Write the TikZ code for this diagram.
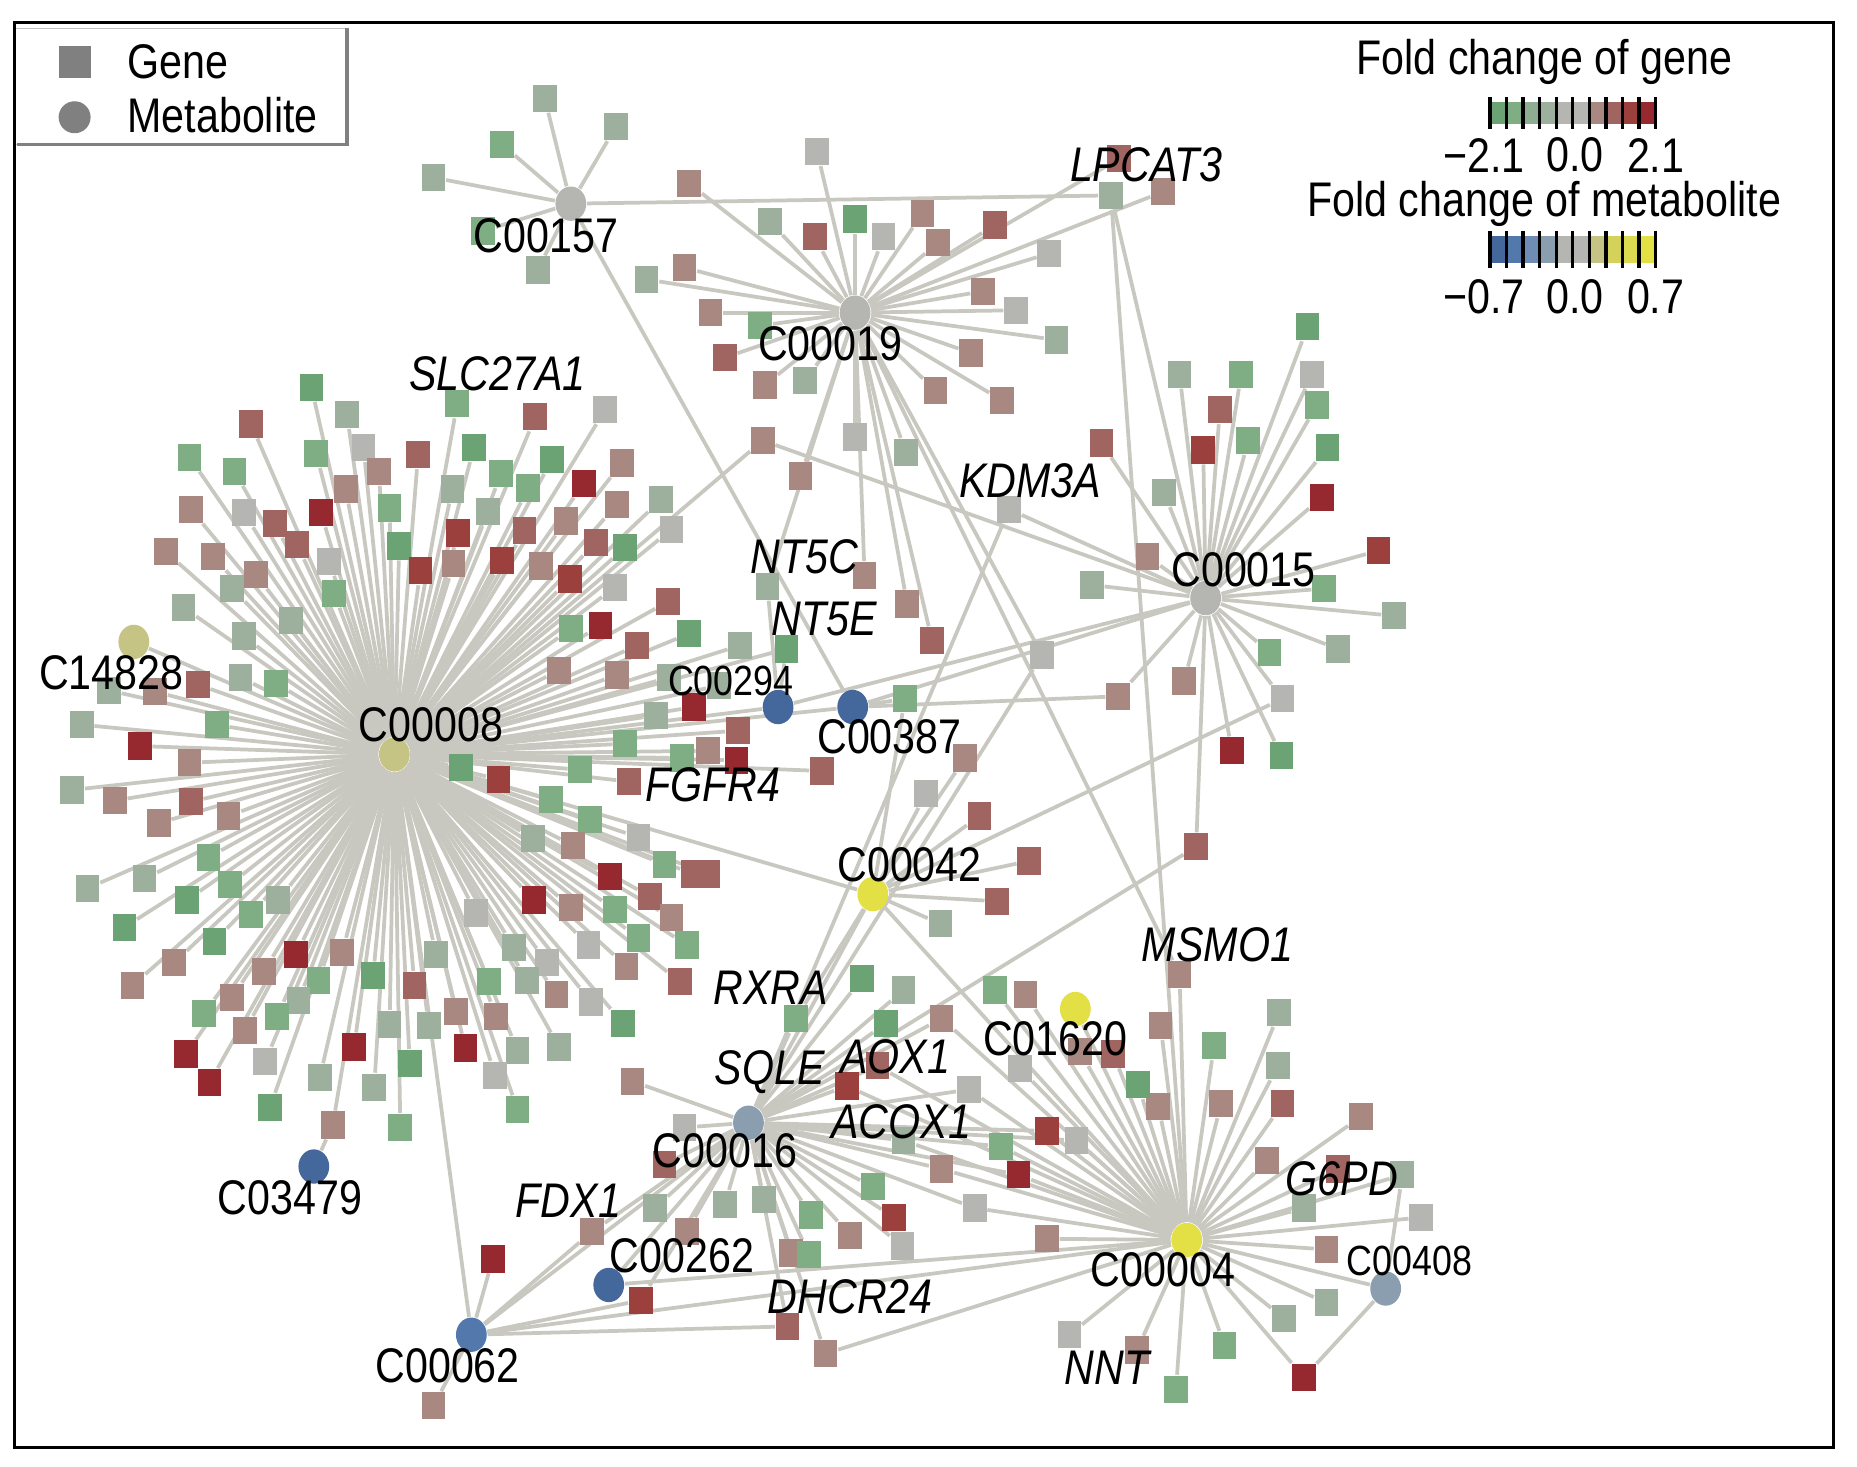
\documentclass[tikz,border=0pt]{standalone}
\usepackage{graphicx}
\usepackage{fontspec}
\setmainfont{Liberation Sans}
\usetikzlibrary{shapes.geometric}

\definecolor{edgec}{RGB}{200,200,192}
\definecolor{gn3}{RGB}{107,163,117}
\definecolor{gn2}{RGB}{127,174,132}
\definecolor{gn1}{RGB}{156,176,157}
\definecolor{gnx}{RGB}{142,174,146}
\definecolor{gry}{RGB}{181,181,177}
\definecolor{rd1}{RGB}{168,136,128}
\definecolor{rd2}{RGB}{160,101,97}
\definecolor{rd3}{RGB}{156,64,62}
\definecolor{rd4}{RGB}{150,41,47}
\definecolor{mb3}{RGB}{68,103,156}
\definecolor{mb2}{RGB}{82,120,172}
\definecolor{mbx}{RGB}{110,140,180}
\definecolor{mb1}{RGB}{138,158,176}
\definecolor{myl}{RGB}{198,196,132}
\definecolor{myx}{RGB}{212,210,90}
\definecolor{myy}{RGB}{220,218,80}
\definecolor{my3}{RGB}{227,224,70}
\definecolor{legc}{RGB}{128,128,128}

\pgfdeclarelayer{paper}
\pgfdeclarelayer{edges}
\pgfdeclarelayer{top}
\pgfsetlayers{paper,edges,main,top}

\newcommand{\lbl}[1]{\scalebox{1}[1.18]{#1}}

\begin{document}
\begin{tikzpicture}[x=0.1mm, y=-0.1mm,
  edge/.style={draw=edgec, line width=0.9pt},
  gene/.style={rectangle, minimum width=2.0mm, minimum height=2.3mm, inner sep=0pt},
  met/.style={ellipse, minimum width=2.6mm, minimum height=2.9mm, inner sep=0pt},
  mlab/.style={inner sep=0pt, font=\fontsize{9.9}{11}\selectfont},
  slab/.style={inner sep=0pt, font=\fontsize{8.6}{10}\selectfont},
  glab/.style={inner sep=0pt, font=\fontsize{9.9}{11}\selectfont\itshape}]
  \useasboundingbox (0,0) rectangle (1568,1238);
  \begin{pgfonlayer}{paper}
  \fill[white] (0,0) rectangle (1568,1238);
  \end{pgfonlayer}

  \begin{pgfonlayer}{top}
  \node[met, fill=gry] (c00157) at (482,172) {};
  \node[met, fill=gry] (c00019) at (722,264) {};
  \node[met, fill=gry] (c00015) at (1018,505) {};
  \node[met, fill=myl] (c00008) at (333,637) {};
  \node[met, fill=myl] (c14828) at (113,542) {};
  \node[met, fill=mb3] (c00294) at (657,597) {};
  \node[met, fill=mb3] (c00387) at (720,597) {};
  \node[met, fill=my3] (c00042) at (737,755) {};
  \node[met, fill=my3] (c01620) at (908,852) {};
  \node[met, fill=mb1] (c00016) at (632,948) {};
  \node[met, fill=my3] (c00004) at (1002,1047) {};
  \node[met, fill=mb1] (c00408) at (1170,1088) {};
  \node[met, fill=mb3] (c03479) at (265,985) {};
  \node[met, fill=mb3] (c00262) at (514,1085) {};
  \node[met, fill=mb2] (c00062) at (398,1127) {};
  \end{pgfonlayer}

  \node[gene, fill=gn1] (lp1) at (938,165) {};
  \node[gene, fill=rd1] (lp2) at (982,162) {};
  \node[gene, fill=rd2] (lp3) at (945,134) {};
  \node[gene, fill=gry] (kdm) at (852,430) {};
  \node[gene, fill=rd1] (sq644) at (644,372) {};
  \node[gene, fill=gry] (sq880) at (880,553) {};
  \node[gene, fill=rd1] (sq944) at (944,588) {};
  \node[gene, fill=gry] (sq1083) at (1083,590) {};
  \node[gene, fill=rd2] (sq1010) at (1010,715) {};
  \node[gene, fill=gn1] (nt5c) at (648,495) {};
  \node[gene, fill=gn3] (nt5e) at (664,548) {};
  \node[gene, fill=gn2] (sq764) at (764,590) {};
  \node[gene, fill=rd1] (msmo) at (996,823) {};
  \node[gene, fill=gn2] (rxra) at (672,860) {};
  \node[gene, fill=rd1] (fdx1) at (500,1040) {};
  \node[gene, fill=rd2] (dhcr) at (665,1120) {};
  \node[gene, fill=rd1] (dhcr2) at (697,1143) {};
  \node[gene, fill=rd3] (sq541) at (541,1098) {};
  \node[gene, fill=rd4] (sq416) at (416,1063) {};
  \node[gene, fill=rd1] (sq366) at (366,1187) {};
  \node[gene, fill=rd1] (sq281) at (281,950) {};
  \node[gene, fill=rd2] (g6pd) at (1130,987) {};
  \node[gene, fill=gn1] (sq1184) at (1184,992) {};
  \node[gene, fill=rd4] (sq1101) at (1101,1163) {};
  \node[gene, fill=rd1] (nnt) at (960,1140) {};

  \foreach \x/\y/\c [count=\i] in {263/327/gn3, 293/350/gn1, 212/358/rd2,
      386/341/gn2, 452/352/rd2, 511/346/gry, 160/386/gn2, 198/398/gn2, 267/383/gn2,
      307/378/gry, 353/384/rd2, 400/378/gn3, 466/388/gn3, 525/391/rd1, 493/408/rd4,
      423/400/gn2, 161/430/rd1, 206/433/gry, 232/442/rd2, 271/433/rd4, 292/413/rd1,
      320/398/rd1, 329/429/gn2, 382/413/gn1, 446/412/gn2, 478/440/rd1, 521/426/rd1,
      558/422/gn1, 567/447/gry, 387/450/rd3, 443/448/rd2, 412/432/gn1, 140/466/rd1,
      180/470/rd1, 216/485/rd1, 251/460/rd2, 278/474/gry, 337/461/gn3, 355/482/rd3,
      383/476/rd1, 424/473/rd3, 457/478/rd1, 503/458/rd2, 528/462/gn3, 481/489/rd3,
      519/496/gry, 564/508/rd2, 196/497/gn1, 282/501/gn2, 155/513/gn1, 206/537/gn1,
      246/524/gn1, 507/528/rd4, 482/531/gn2, 538/545/rd2, 582/535/gn3, 625/545/gn1,
      472/566/rd1, 521/570/rd1, 565/572/gn1, 586/597/rd4, 607/579/gn1, 92/583/gn1,
      131/584/rd1, 167/578/rd2, 203/572/gn1, 233/577/gn2, 69/612/gn1, 118/630/rd4,
      160/644/rd1, 183/612/gn2, 554/604/gn1, 528/628/gn2, 598/634/rd1, 623/617/rd2,
      622/642/rd4, 576/640/gn2, 694/651/rd2, 61/667/gn1, 97/676/rd1, 134/695/rd1,
      161/677/rd2, 193/689/rd1, 389/648/gn3, 421/658/rd3, 465/675/gn2, 490/650/gn2,
      450/708/gn1, 498/692/gn2, 531/660/rd2, 484/714/rd1, 539/707/gry, 515/740/rd4,
      561/730/gn2, 585/738/rd2, 598/738/rd2, 549/757/rd2, 567/775/rd1, 176/724/gn2,
      122/742/gn1, 74/750/gn1, 158/760/gn3, 194/747/gn2, 212/772/gn2, 235/760/gn1,
      105/783/gn3, 147/813/rd1, 181/795/gn3, 112/832/rd1, 402/771/gry, 451/760/rd4,
      482/766/rd1, 519/768/gn2, 539/792/gn2, 580/798/gn2, 250/806/rd4, 289/804/rd1,
      223/820/rd1, 269/828/gn2, 315/824/gn3, 350/832/rd2, 368/806/gn1, 434/800/gn1,
      462/813/gry, 497/798/gry, 529/816/rd1, 574/829/rd2, 196/842/rd1, 252/845/gn1,
      172/856/gn2, 234/858/gn2, 385/854/rd1, 413/829/gn2, 419/858/rd1, 445/828/gn1,
      470/840/rd1, 499/846/gry, 526/864/gn3, 157/890/rd4, 207/870/rd1, 299/884/rd4,
      329/865/gn1, 362/866/gn1, 393/885/rd4, 437/887/gn1, 472/884/gn1, 177/914/rd4,
      224/896/gry, 270/910/gn1, 316/918/gn1, 346/898/gn3, 418/908/gry, 228/935/gn3,
      338/952/gn2, 437/937/gn2}{
    \node[gene, fill=\c] (a\i) at (\x,\y) {};
    \xdef\na{\i}
  }

  \foreach \x/\y/\c [count=\i] in {460/83/gn1, 520/107/gn1, 424/122/gn2,
      366/150/gn1, 408/195/gn2, 454/228/gn1}{
    \node[gene, fill=\c] (b\i) at (\x,\y) {};
    \xdef\nb{\i}
  }

  \foreach \x/\y/\c [count=\i] in {690/128/gry, 582/155/rd1, 650/187/gn1,
      688/200/rd2, 722/185/gn3, 746/200/gry, 779/180/rd1, 792/205/rd1, 840/190/rd2,
      886/214/gry, 578/226/rd1, 546/236/gn1, 600/264/rd1, 642/275/gn2, 612/302/rd2,
      830/246/rd1, 858/262/gry, 892/287/gn1, 820/298/rd1, 790/330/rd1, 846/338/rd1,
      646/325/rd1, 680/321/gn1, 722/369/gry, 765/382/gn1, 676/402/rd1, 730/486/rd1,
      766/510/rd1, 787/541/rd2}{
    \node[gene, fill=\c] (d\i) at (\x,\y) {};
    \xdef\nd{\i}
  }

  \foreach \x/\y/\c [count=\i] in {1104/276/gn3, 996/316/gn1, 1048/316/gn2,
      1108/316/gry, 1030/346/rd2, 1112/342/gn2, 930/374/rd2, 1016/380/rd3,
      1054/372/gn2, 1121/378/gn3, 983/416/gn1, 1116/420/rd4, 969/470/rd1,
      1164/465/rd3, 922/494/gn1, 1118/497/gn2, 1177/520/gn1, 1130/548/gn1,
      1072/551/gn2, 1000/575/rd1, 1040/634/rd4, 1082/638/gn3}{
    \node[gene, fill=\c] (e\i) at (\x,\y) {};
    \xdef\ne{\i}
  }

  \foreach \x/\y/\c [count=\i] in {782/670/gry, 815/640/rd1, 827/689/rd2,
      869/727/rd2, 842/761/rd2, 794/780/gn1}{
    \node[gene, fill=\c] (f\i) at (\x,\y) {};
    \xdef\nf{\i}
  }

  \foreach \x/\y/\c [count=\i] in {534/913/rd1, 578/952/gry, 561/983/rd2,
      553/1020/gn1, 580/1040/rd1, 612/1017/gn1, 645/1013/gn1, 668/1058/rd1,
      685/1026/gn2, 683/1059/gn2, 718/1043/rd1, 737/1002/gn2, 755/1028/rd3,
      762/1052/gry, 728/826/gn3, 763/836/gn1, 748/864/gn3}{
    \node[gene, fill=\c] (h\i) at (\x,\y) {};
    \xdef\nh{\i}
  }

  \foreach \x/\y/\c [count=\i] in {715/917/rd3, 741/900/rd2, 763/963/gn1,
      795/987/rd1, 818/920/gry, 845/968/gn2, 860/992/rd4, 884/955/rd3,
      909/963/gry, 795/860/rd1, 823/1020/gry}{
    \node[gene, fill=\c] (k\i) at (\x,\y) {};
    \xdef\nk{\i}
  }

  \foreach \x/\y/\c [count=\i] in {980/866/rd1, 1025/883/gn2, 1080/855/gn1,
      1079/900/gn1, 1083/932/rd2, 1031/932/rd1, 978/934/rd1, 961/916/gn3,
      940/890/rd2, 912/888/rd1, 1070/980/rd1, 1149/943/rd1, 1101/1020/gn1,
      1200/1028/gry, 1120/1055/rd1, 1084/1113/gn1, 1120/1100/gn1, 1034/1136/gn2,
      903/1127/gry, 993/1173/gn2, 884/1046/rd1, 840/836/gn2, 866/840/rd1,
      861/902/gry}{
    \node[gene, fill=\c] (m\i) at (\x,\y) {};
    \xdef\nm{\i}
  }

  \begin{pgfonlayer}{edges}
  \foreach \i in {1,...,\na} \draw[edge] (c00008) -- (a\i);
  \foreach \i in {1,...,\nb} \draw[edge] (c00157) -- (b\i);
  \foreach \i in {1,...,\nd} \draw[edge] (c00019) -- (d\i);
  \foreach \i in {1,...,\ne} \draw[edge] (c00015) -- (e\i);
  \foreach \i in {1,...,\nf} \draw[edge] (c00042) -- (f\i);
  \foreach \i in {1,...,\nh} \draw[edge] (c00016) -- (h\i);
  \foreach \i in {1,...,\nk} \draw[edge] (c00016) -- (k\i) -- (c00004);
  \foreach \i in {1,...,\nm} \draw[edge] (c00004) -- (m\i);
  \foreach \a/\b in {c00157/lp1, lp1/c00015, lp1/c00004, c00019/lp2, c00019/lp3,
      kdm/c00015, kdm/c00016, sq644/c00015, sq644/c00008, sq880/c00019, sq880/c00016,
      sq944/c00387, sq944/c00015, sq1083/c00042, sq1083/c00015, sq1010/c00015,
      sq1010/c00016, nt5c/c00019, nt5c/c00294, nt5e/c00294, nt5e/c00008,
      sq764/c00387, sq764/c00042, msmo/c00004, msmo/c00019, rxra/c00042, rxra/c00016,
      fdx1/c00016, fdx1/c00062, dhcr/c00016, dhcr/c00062, dhcr2/c00016, dhcr2/c00004,
      sq541/c00062, sq541/c00016, sq416/c00062, sq366/c00062, sq281/c00008,
      sq281/c03479, g6pd/c00004, sq1184/c00004, sq1184/c00408, sq1101/c00004,
      sq1101/c00408, nnt/c00004,
      c00008/c14828, c00008/c00294, c00008/c00387, c00008/c00042, c00008/c00062,
      c00157/c00387, c00015/c00294, c00015/c00387, c00042/c00016, c00042/c00004,
      c00062/c00016, c00062/c00004, c00262/c00004, c00262/c00016, c00408/c00004,
      c01620/c00004}
    \draw[edge] (\a) -- (\b);
  \end{pgfonlayer}

  \begin{pgfonlayer}{top}
  \node[mlab] (t-c00157) at (461,199) {\lbl{C00157}};
  \node[mlab] (t-c00019) at (701,290) {\lbl{C00019}};
  \node[mlab] (t-c00015) at (1050,481) {\lbl{C00015}};
  \node[mlab] (t-c00008) at (364,612) {\lbl{C00008}};
  \node[mlab] (t-c14828) at (94,568) {\lbl{C14828}};
  \node[slab] (t-c00294) at (617,575) {\lbl{C00294}};
  \node[mlab] (t-c00387) at (751,622) {\lbl{C00387}};
  \node[mlab] (t-c00042) at (768,730) {\lbl{C00042}};
  \node[mlab] (t-c01620) at (891,877) {\lbl{C01620}};
  \node[mlab] (t-c00016) at (612,972) {\lbl{C00016}};
  \node[mlab] (t-c00004) at (982,1072) {\lbl{C00004}};
  \node[slab] (t-c00408) at (1190,1065) {\lbl{C00408}};
  \node[mlab] (t-c03479) at (245,1011) {\lbl{C03479}};
  \node[mlab] (t-c00262) at (576,1060) {\lbl{C00262}};
  \node[mlab] (t-c00062) at (378,1153) {\lbl{C00062}};
  \node[glab] (t-slc) at (420,316) {\lbl{SLC27A1}};
  \node[glab] (t-lpcat) at (968,139) {\lbl{LPCAT3}};
  \node[glab] (t-kdm) at (870,406) {\lbl{KDM3A}};
  \node[glab] (t-nt5c) at (679,470) {\lbl{NT5C}};
  \node[glab] (t-nt5e) at (696,523) {\lbl{NT5E}};
  \node[glab] (t-fgfr) at (602,663) {\lbl{FGFR4}};
  \node[glab] (t-msmo) at (1028,798) {\lbl{MSMO1}};
  \node[glab] (t-rxra) at (651,834) {\lbl{RXRA}};
  \node[glab] (t-aox) at (756,892) {\lbl{AOX1}};
  \node[glab] (t-sqle) at (650,905) {\lbl{SQLE}};
  \node[glab] (t-acox) at (761,947) {\lbl{ACOX1}};
  \node[glab] (t-g6pd) at (1133,995) {\lbl{G6PD}};
  \node[glab] (t-fdx) at (480,1014) {\lbl{FDX1}};
  \node[glab] (t-dhcr) at (718,1095) {\lbl{DHCR24}};
  \node[glab] (t-nnt) at (935,1155) {\lbl{NNT}};

  \draw[draw=gray!50, fill=white] (12,24) rectangle (293,122);
  \draw[gray, line width=0.8pt] (293,24) -- (293,122) -- (14,122);
  \node[gene, fill=legc, minimum width=2.7mm, minimum height=2.7mm] (lg-gene) at (63,52) {};
  \node[circle, fill=legc, minimum size=2.7mm, inner sep=0pt] (lg-met) at (63,99) {};
  \node[mlab, anchor=west] (lt-gene) at (107,52) {\lbl{Gene}};
  \node[mlab, anchor=west] (lt-met) at (107,97) {\lbl{Metabolite}};

  \node[mlab] (t-fcg) at (1304,52) {\lbl{Fold change of gene}};
  \foreach \c [count=\i from 0] in {gn3,gn2,gnx,gn1,gry,gry,rd1,rd2,rd3,rd4}
    \fill[\c] (1258+\i*14,86) rectangle ++(14,19);
  \foreach \i in {0,...,10}
    \draw[line width=0.8pt] (1258+\i*14,82) -- ++(0,27);
  \node[mlab] (n-g1) at (1253,131) {\lbl{−2.1}};
  \node[mlab] (n-g2) at (1330,131) {\lbl{0.0}};
  \node[mlab] (n-g3) at (1398,131) {\lbl{2.1}};

  \node[mlab] (t-fcm) at (1304,172) {\lbl{Fold change of metabolite}};
  \foreach \c [count=\i from 0] in {mb3,mb2,mbx,mb1,gry,gry,myl,myx,myy,my3}
    \fill[\c] (1258+\i*14,199) rectangle ++(14,23);
  \foreach \i in {0,...,10}
    \draw[line width=0.8pt] (1258+\i*14,195) -- ++(0,31);
  \node[mlab] (n-m1) at (1253,251) {\lbl{−0.7}};
  \node[mlab] (n-m2) at (1330,251) {\lbl{0.0}};
  \node[mlab] (n-m3) at (1398,251) {\lbl{0.7}};

  \draw[line width=0.8pt] (12,19) rectangle (1548,1222);
  \end{pgfonlayer}
\end{tikzpicture}
\end{document}
